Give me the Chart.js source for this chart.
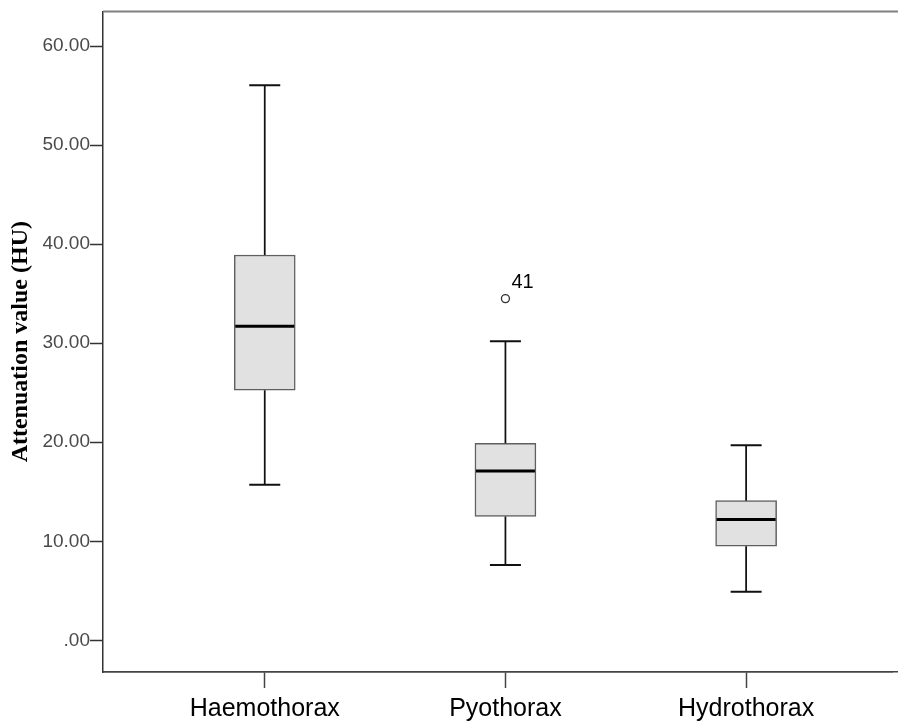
<!DOCTYPE html>
<html>
<head>
<meta charset="utf-8">
<script src="https://cdn.jsdelivr.net/npm/chart.js@4.4.1/dist/chart.umd.min.js"></script>
<style>
  body { margin: 0; background: #fff; }
  #wrap { width: 898px; height: 722px; }
</style>
</head>
<body>
<div id="wrap"><canvas id="boxplot"></canvas></div>
<script>
// data
const categories = ['Haemothorax', 'Pyothorax', 'Hydrothorax'];
const whiskerLow = [15.7, 7.6, 4.9];
const q1 = [25.25, 12.5, 9.5];
const median = [31.7, 17.1, 12.2];
const q3 = [38.9, 19.9, 14.1];
const whiskerHigh = [56.05, 30.2, 19.7];
const outlierCat = [1];
const outlierVal = [34.5];
const outlierLabels = ['41'];
const yTicks = [0, 10, 20, 30, 40, 50, 60];

const boxData = categories.map((c, i) => ({ x: i, y: [q1[i], q3[i]] }));
const outlierData = outlierCat.map((c, i) => ({ x: c, y: outlierVal[i] }));

const boxPlugin = {
    id: 'boxParts',
    afterDatasetsDraw(chart) {
        const ctx = chart.ctx;
        const xs = chart.scales.x;
        const ys = chart.scales.y;
        ctx.save();
        ctx.strokeStyle = '#111';
        categories.forEach((c, i) => {
            const x = xs.getPixelForValue(i);
            // whiskers
            ctx.lineWidth = 1.75;
            ctx.beginPath();
            ctx.moveTo(x, ys.getPixelForValue(q3[i]));
            ctx.lineTo(x, ys.getPixelForValue(whiskerHigh[i]));
            ctx.moveTo(x, ys.getPixelForValue(q1[i]));
            ctx.lineTo(x, ys.getPixelForValue(whiskerLow[i]));
            ctx.stroke();
            // caps
            ctx.lineWidth = 2;
            ctx.beginPath();
            ctx.moveTo(x - 15.5, ys.getPixelForValue(whiskerHigh[i]));
            ctx.lineTo(x + 15.5, ys.getPixelForValue(whiskerHigh[i]));
            ctx.moveTo(x - 15.5, ys.getPixelForValue(whiskerLow[i]));
            ctx.lineTo(x + 15.5, ys.getPixelForValue(whiskerLow[i]));
            ctx.stroke();
            // median
            ctx.strokeStyle = '#000';
            ctx.lineWidth = 3;
            ctx.beginPath();
            ctx.moveTo(x - 29.5, ys.getPixelForValue(median[i]));
            ctx.lineTo(x + 29.5, ys.getPixelForValue(median[i]));
            ctx.stroke();
            ctx.strokeStyle = '#111';
        });
        // outlier case numbers
        ctx.fillStyle = '#000';
        ctx.font = '20px "Liberation Sans", Arial, sans-serif';
        ctx.textAlign = 'left';
        ctx.textBaseline = 'alphabetic';
        outlierLabels.forEach((t, i) => {
            ctx.fillText(t, xs.getPixelForValue(outlierCat[i]) + 6, ys.getPixelForValue(outlierVal[i]) - 11);
        });
        // frame: top line, and the x axis line carried on to the right edge
        const a = chart.chartArea;
        ctx.strokeStyle = '#808080';
        ctx.lineWidth = 2;
        ctx.beginPath();
        ctx.moveTo(a.left, a.top);
        ctx.lineTo(chart.width, a.top);
        ctx.stroke();
        const yb = Math.round(a.bottom - 0.75) + 0.75;
        ctx.strokeStyle = '#444';
        ctx.lineWidth = 1.5;
        ctx.beginPath();
        ctx.moveTo(a.left, yb);
        ctx.lineTo(chart.width, yb);
        ctx.stroke();
        ctx.restore();
    }
};

const ctx = document.getElementById('boxplot').getContext('2d');
const myChart = new Chart(ctx, {
    type: 'bar',
    data: {
        datasets: [{
            label: 'box',
            data: boxData,
            backgroundColor: '#e1e1e1',
            borderColor: '#5f5f5f',
            borderWidth: 1.5,
            borderSkipped: false,
            barThickness: 61
        }, {
            type: 'scatter',
            label: 'outliers',
            data: outlierData,
            pointStyle: 'circle',
            pointRadius: 4,
            pointBorderWidth: 1.3,
            pointBackgroundColor: '#fff',
            pointBorderColor: '#333'
        }]
    },
    options: {
        responsive: true,
        maintainAspectRatio: false,
        animation: false,
        layout: { padding: { top: 10, right: 0, left: 0, bottom: 0 } },
        plugins: {
            legend: { display: false },
            tooltip: { enabled: false }
        },
        scales: {
            x: {
                type: 'linear',
                min: -0.672,
                max: 2.609,
                offset: false,
                afterBuildTicks: s => { s.ticks = categories.map((c, i) => ({ value: i })); },
                afterFit: s => { s.height = 50; },
                grid: {
                    offset: false,
                    drawOnChartArea: false,
                    drawTicks: true,
                    tickLength: 16,
                    tickWidth: 1.5,
                    tickColor: '#444'
                },
                border: { display: true, color: '#444', width: 1.5 },
                ticks: {
                    autoSkip: false,
                    maxRotation: 0,
                    padding: 6,
                    color: '#000',
                    font: { family: '"Liberation Sans", Arial, sans-serif', size: 25 },
                    callback: v => categories[v]
                }
            },
            y: {
                min: -3.2,
                max: 63.5,
                afterBuildTicks: s => { s.ticks = yTicks.map(v => ({ value: v })); },
                afterFit: s => { s.width = 103; },
                grid: {
                    drawOnChartArea: false,
                    drawTicks: true,
                    tickLength: 13,
                    tickWidth: 1.5,
                    tickColor: '#333'
                },
                border: { display: true, color: '#333', width: 1.5 },
                ticks: {
                    padding: 0,
                    color: '#4a4a4a',
                    font: { family: '"Liberation Sans", Arial, sans-serif', size: 19 },
                    callback: v => v === 0 ? '.00' : v.toFixed(2)
                },
                title: {
                    display: true,
                    text: 'Attenuation value (HU)',
                    color: '#000',
                    padding: { top: 6, bottom: 0 },
                    font: { family: '"Liberation Serif", "Times New Roman", serif', size: 24, weight: 'bold' }
                }
            }
        }
    },
    plugins: [boxPlugin]
});
</script>
</body>
</html>
